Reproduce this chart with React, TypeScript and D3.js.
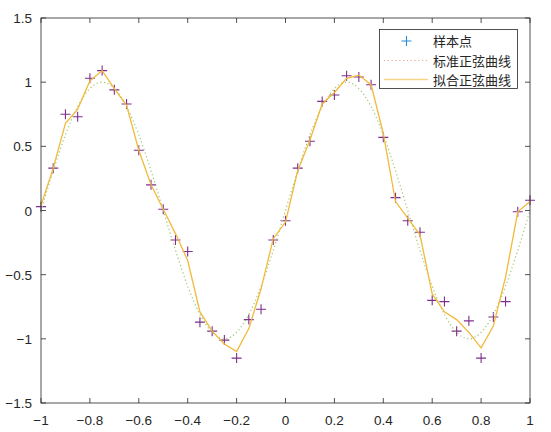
import * as d3 from "d3";
import { useEffect, useRef } from "react";

// ** Sample x positions (step 0.05 from -1 to 1) **
const xs = [
    -1, -0.95, -0.9, -0.85, -0.8, -0.75, -0.7, -0.65, -0.6, -0.55, -0.5,
    -0.45, -0.4, -0.35, -0.3, -0.25, -0.2, -0.15, -0.1, -0.05, 0,
    0.05, 0.1, 0.15, 0.2, 0.25, 0.3, 0.35, 0.4, 0.45, 0.5,
    0.55, 0.6, 0.65, 0.7, 0.75, 0.8, 0.85, 0.9, 0.95, 1
];

// ** Noisy sample points (样本点) **
const sampleY = [
    0.03, 0.33, 0.75, 0.73, 1.03, 1.09, 0.94, 0.83, 0.47, 0.2, 0.01,
    -0.23, -0.32, -0.87, -0.94, -1.01, -1.15, -0.85, -0.77, -0.23, -0.08,
    0.33, 0.54, 0.85, 0.9, 1.05, 1.04, 0.98, 0.57, 0.1, -0.08,
    -0.17, -0.7, -0.71, -0.94, -0.86, -1.15, -0.83, -0.71, -0.01, 0.08
];

// ** Standard sine curve (标准正弦曲线) **
const standardY = [
    0, 0.31, 0.59, 0.81, 0.95, 1, 0.95, 0.81, 0.59, 0.31, 0,
    -0.31, -0.59, -0.81, -0.95, -1, -0.95, -0.81, -0.59, -0.31, 0,
    0.31, 0.59, 0.81, 0.95, 1, 0.95, 0.81, 0.59, 0.31, 0,
    -0.31, -0.59, -0.81, -0.95, -1, -0.95, -0.81, -0.59, -0.31, 0
];

// ** Fitted sine curve (拟合正弦曲线) **
const fitY = [
    0.04, 0.33, 0.68, 0.79, 1.01, 1.09, 0.95, 0.82, 0.47, 0.2, 0.01,
    -0.18, -0.39, -0.79, -0.94, -1.04, -1.1, -0.92, -0.61, -0.22, -0.09,
    0.31, 0.55, 0.83, 0.92, 1.03, 1.055, 0.98, 0.6, 0.07, -0.06,
    -0.19, -0.65, -0.79, -0.85, -0.95, -1.07, -0.9, -0.52, -0.01, 0.07
];

const xTicks = [-1, -0.8, -0.6, -0.4, -0.2, 0, 0.2, 0.4, 0.6, 0.8, 1];
const yTicks = [-1.5, -1, -0.5, 0, 0.5, 1, 1.5];
const legendLabels = ["样本点", "标准正弦曲线", "拟合正弦曲线"];

const Chart: React.FC = () => {
    const svgRef = useRef<SVGSVGElement | null>(null);

    useEffect(() => {
        const svg = d3.select(svgRef.current);
        svg.selectAll("*").remove();

        const width = 551, height = 432;
        const left = 41, right = 530, top = 18, bottom = 403;
        const axisColor = "#262626";
        const font = "'Liberation Sans', Arial, sans-serif";

        const x = d3.scaleLinear().domain([-1, 1]).range([left, right]);
        const y = d3.scaleLinear().domain([-1.5, 1.5]).range([bottom, top]);

        svg.append("rect").attr("width", width).attr("height", height).attr("fill", "#fff");

        const plot = svg.append("g");

        // ** Sample markers ("+") **
        const plus = (cx: number, cy: number, r: number) =>
            `M${cx - r},${cy}H${cx + r}M${cx},${cy - r}V${cy + r}`;

        plot.selectAll("path.pt")
            .data(xs.map((v, i) => [v, sampleY[i]]))
            .join("path")
            .attr("class", "pt")
            .attr("d", d => plus(x(d[0]), y(d[1]), 5))
            .attr("stroke", "#7E2F8E")
            .attr("stroke-width", 1.1)
            .attr("fill", "none");

        // ** Standard sine, dotted **
        const line = d3.line<number>()
            .x((_, i) => x(xs[i]));

        plot.append("path")
            .attr("d", line.y(d => y(d)).curve(d3.curveCardinal)(standardY))
            .attr("fill", "none")
            .attr("stroke", "#9cc96b")
            .attr("stroke-width", 1.2)
            .attr("stroke-dasharray", "1.2,2.6");

        // ** Fitted sine, solid **
        plot.append("path")
            .attr("d", d3.line<number>().x((_, i) => x(xs[i])).y(d => y(d))(fitY))
            .attr("fill", "none")
            .attr("stroke", "#F2B93B")
            .attr("stroke-width", 1.3);

        // ** Axes box **
        svg.append("rect")
            .attr("x", left).attr("y", top)
            .attr("width", right - left).attr("height", bottom - top)
            .attr("fill", "none")
            .attr("stroke", axisColor)
            .attr("stroke-width", 0.8);

        const tickLen = 5;
        const ticks = svg.append("g").attr("stroke", axisColor).attr("stroke-width", 0.8);
        xTicks.forEach(t => {
            ticks.append("line").attr("x1", x(t)).attr("x2", x(t)).attr("y1", bottom).attr("y2", bottom - tickLen);
            ticks.append("line").attr("x1", x(t)).attr("x2", x(t)).attr("y1", top).attr("y2", top + tickLen);
        });
        yTicks.forEach(t => {
            ticks.append("line").attr("x1", left).attr("x2", left + tickLen).attr("y1", y(t)).attr("y2", y(t));
            ticks.append("line").attr("x1", right).attr("x2", right - tickLen).attr("y1", y(t)).attr("y2", y(t));
        });

        // ** Tick labels **
        svg.selectAll("text.xt")
            .data(xTicks)
            .join("text")
            .attr("class", "xt")
            .attr("x", d => x(d))
            .attr("y", bottom + 22)
            .attr("text-anchor", "middle")
            .attr("fill", axisColor)
            .style("font-family", font)
            .style("font-size", "13.5px")
            .text(d => d3.format("~g")(d));

        svg.selectAll("text.yt")
            .data(yTicks)
            .join("text")
            .attr("class", "yt")
            .attr("x", left - 9)
            .attr("y", d => y(d) + 5)
            .attr("text-anchor", "end")
            .attr("fill", axisColor)
            .style("font-family", font)
            .style("font-size", "13.5px")
            .text(d => d3.format("~g")(d));

        // ** Legend **
        const lg = svg.append("g");
        lg.append("rect")
            .attr("x", 379.5).attr("y", 29.5)
            .attr("width", 138).attr("height", 59)
            .attr("fill", "#fff")
            .attr("stroke", axisColor)
            .attr("stroke-width", 0.8);

        const rowY = [41, 60.5, 79.5];
        lg.append("path")
            .attr("d", plus(406.5, rowY[0], 5))
            .attr("stroke", "#2a8ad6")
            .attr("stroke-width", 1.1);
        lg.append("line")
            .attr("x1", 384).attr("x2", 428).attr("y1", rowY[1]).attr("y2", rowY[1])
            .attr("stroke", "#f2a58c").attr("stroke-width", 1.2)
            .attr("stroke-dasharray", "1.2,2.6");
        lg.append("line")
            .attr("x1", 384).attr("x2", 428).attr("y1", rowY[2]).attr("y2", rowY[2])
            .attr("stroke", "#F7D48A").attr("stroke-width", 1.6);

        lg.selectAll("text")
            .data(legendLabels)
            .join("text")
            .attr("x", 433)
            .attr("y", (_, i) => rowY[i] + 5)
            .attr("fill", axisColor)
            .style("font-family", "'Noto Sans CJK SC', sans-serif")
            .style("font-size", "13px")
            .text(d => d);
    }, []);

    return (
        <svg ref={svgRef} width={551} height={432}
            style={{ position: "absolute", left: 0, top: 0 }} />
    );
};

export default function App() {
    return <Chart />;
}
